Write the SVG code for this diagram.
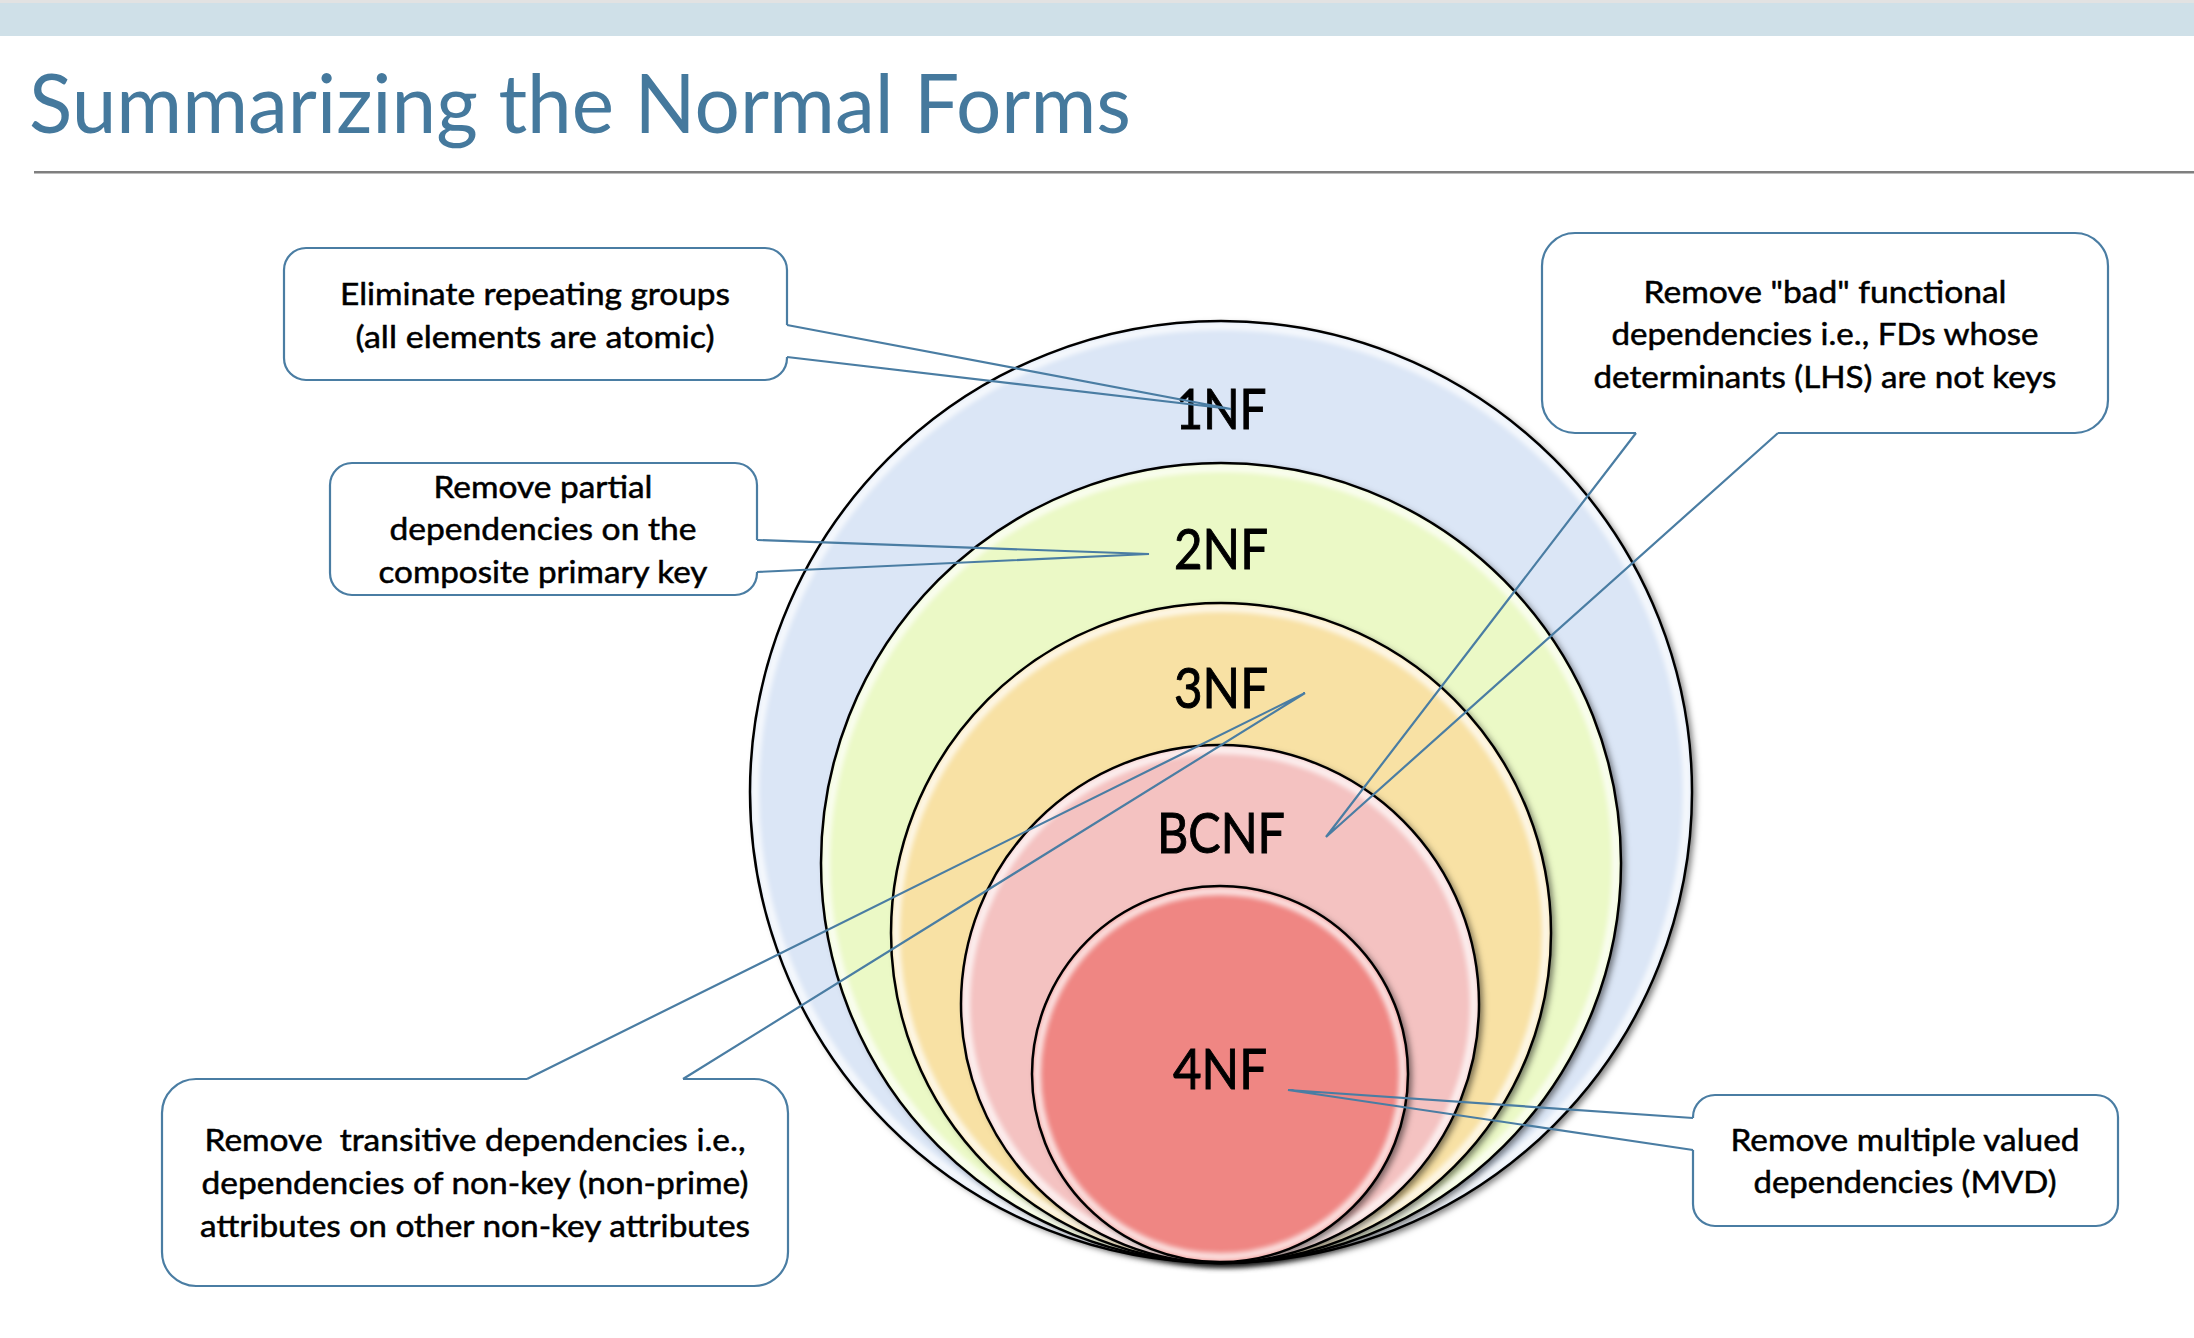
<svg xmlns="http://www.w3.org/2000/svg" width="2194" height="1338" viewBox="0 0 2194 1338">
  <style>
    .title { font-family: Lato, "Open Sans", sans-serif; font-size: 81px; fill: #45799d; }
    .lvl { font-family: Lato, "Open Sans", sans-serif; font-size: 56px; fill: #000; stroke: #000; stroke-width: 1; text-anchor: middle; }
    .note { font-family: Lato, "Open Sans", sans-serif; font-size: 30px; fill: #000; stroke: #000; stroke-width: 0.5; text-anchor: middle; }
    .box { fill: none; stroke: #4a7da3; stroke-width: 2.2; }
    .wedge { fill: none; stroke: #4a7da3; stroke-width: 2.2; stroke-linejoin: miter; }
    .ring { fill: none; stroke: #fff; stroke-width: 8; opacity: 0.75; }
    .edge { fill: none; stroke: #000; stroke-width: 2.5; }
  </style>
  <defs>
    <filter id="shadow" x="-10%" y="-10%" width="125%" height="125%">
      <feDropShadow dx="4" dy="3" stdDeviation="3" flood-color="#000" flood-opacity="0.5"/>
    </filter>
    <filter id="soft" x="-5%" y="-5%" width="110%" height="110%">
      <feGaussianBlur stdDeviation="2.5"/>
    </filter>
    <clipPath id="clip1"><circle cx="1221" cy="792" r="471"/></clipPath>
    <clipPath id="clip2"><circle cx="1221" cy="863" r="400"/></clipPath>
    <clipPath id="clip3"><circle cx="1221" cy="933" r="330"/></clipPath>
    <clipPath id="clip4"><circle cx="1220" cy="1004" r="259"/></clipPath>
    <clipPath id="clip5"><circle cx="1220" cy="1074" r="188"/></clipPath>
  </defs>

  <rect width="2194" height="1338" fill="#fff"/>

  <!-- header band, title and rule -->
  <g id="header">
    <rect x="0" y="0" width="2194" height="3" fill="#e2e2e2"/>
    <rect x="0" y="3" width="2194" height="33" fill="#cfe0e8"/>
    <text class="title" x="29" y="133" textLength="1102" lengthAdjust="spacingAndGlyphs">Summarizing the Normal Forms</text>
    <rect x="34" y="171" width="2160" height="2.5" fill="#7f7f7f"/>
  </g>

  <!-- nested normal-form circles, outermost first -->
  <g id="nf1">
    <circle cx="1221" cy="792" r="471" fill="#dbe6f6" filter="url(#shadow)"/>
    <g clip-path="url(#clip1)"><circle class="ring" cx="1221" cy="792" r="466" filter="url(#soft)"/></g>
    <circle class="edge" cx="1221" cy="792" r="471"/>
    <text class="lvl" x="1221" y="429" textLength="91" lengthAdjust="spacingAndGlyphs">1NF</text>
  </g>
  <g id="nf2">
    <circle cx="1221" cy="863" r="400" fill="#ebf9c6" filter="url(#shadow)"/>
    <g clip-path="url(#clip2)"><circle class="ring" cx="1221" cy="863" r="395" filter="url(#soft)"/></g>
    <circle class="edge" cx="1221" cy="863" r="400"/>
    <text class="lvl" x="1221" y="569" textLength="94" lengthAdjust="spacingAndGlyphs">2NF</text>
  </g>
  <g id="nf3">
    <circle cx="1221" cy="933" r="330" fill="#f8e1a4" filter="url(#shadow)"/>
    <g clip-path="url(#clip3)"><circle class="ring" cx="1221" cy="933" r="325" filter="url(#soft)"/></g>
    <circle class="edge" cx="1221" cy="933" r="330"/>
    <text class="lvl" x="1221" y="708" textLength="94" lengthAdjust="spacingAndGlyphs">3NF</text>
  </g>
  <g id="bcnf">
    <circle cx="1220" cy="1004" r="259" fill="#f4c2c1" filter="url(#shadow)"/>
    <g clip-path="url(#clip4)"><circle class="ring" cx="1220" cy="1004" r="254" filter="url(#soft)"/></g>
    <circle class="edge" cx="1220" cy="1004" r="259"/>
    <text class="lvl" x="1221" y="853" textLength="128" lengthAdjust="spacingAndGlyphs">BCNF</text>
  </g>
  <g id="nf4">
    <circle cx="1220" cy="1074" r="188" fill="#ef8683" filter="url(#shadow)"/>
    <g clip-path="url(#clip5)"><circle class="ring" cx="1220" cy="1074" r="183" filter="url(#soft)"/></g>
    <circle class="edge" cx="1220" cy="1074" r="188"/>
    <text class="lvl" x="1220" y="1089" textLength="94" lengthAdjust="spacingAndGlyphs">4NF</text>
  </g>

  <!-- callout boxes (outline left open where the pointer leaves) -->
  <g id="note-1nf">
    <path class="box" d="M787,357 V358 A22,22 0 0 1 765,380 H306 A22,22 0 0 1 284,358 V270 A22,22 0 0 1 306,248 H765 A22,22 0 0 1 787,270 V325"/>
    <text class="note" x="535" y="305" textLength="390" lengthAdjust="spacingAndGlyphs">Eliminate repeating groups</text>
    <text class="note" x="535" y="348" textLength="359" lengthAdjust="spacingAndGlyphs">(all elements are atomic)</text>
  </g>
  <g id="note-2nf">
    <path class="box" d="M757,572 V573 A22,22 0 0 1 735,595 H352 A22,22 0 0 1 330,573 V485 A22,22 0 0 1 352,463 H735 A22,22 0 0 1 757,485 V540"/>
    <text class="note" x="543" y="498" textLength="219" lengthAdjust="spacingAndGlyphs">Remove partial</text>
    <text class="note" x="543" y="540" textLength="307" lengthAdjust="spacingAndGlyphs">dependencies on the</text>
    <text class="note" x="543" y="583" textLength="329" lengthAdjust="spacingAndGlyphs">composite primary key</text>
  </g>
  <g id="note-bcnf">
    <path class="box" d="M1636,433 H1575 A33,33 0 0 1 1542,400 V266 A33,33 0 0 1 1575,233 H2075 A33,33 0 0 1 2108,266 V400 A33,33 0 0 1 2075,433 H1778"/>
    <text class="note" x="1825" y="303" textLength="363" lengthAdjust="spacingAndGlyphs">Remove "bad" functional</text>
    <text class="note" x="1825" y="345" textLength="427" lengthAdjust="spacingAndGlyphs">dependencies i.e., FDs whose</text>
    <text class="note" x="1825" y="388" textLength="463" lengthAdjust="spacingAndGlyphs">determinants (LHS) are not keys</text>
  </g>
  <g id="note-3nf">
    <path class="box" d="M683,1079 H754 A34,34 0 0 1 788,1113 V1252 A34,34 0 0 1 754,1286 H196 A34,34 0 0 1 162,1252 V1113 A34,34 0 0 1 196,1079 H527"/>
    <text class="note" x="475" y="1151" textLength="541" lengthAdjust="spacingAndGlyphs" xml:space="preserve">Remove  transitive dependencies i.e.,</text>
    <text class="note" x="475" y="1194" textLength="547" lengthAdjust="spacingAndGlyphs">dependencies of non-key (non-prime)</text>
    <text class="note" x="475" y="1237" textLength="550" lengthAdjust="spacingAndGlyphs">attributes on other non-key attributes</text>
  </g>
  <g id="note-4nf">
    <path class="box" d="M1693,1118 V1117 A22,22 0 0 1 1715,1095 H2096 A22,22 0 0 1 2118,1117 V1204 A22,22 0 0 1 2096,1226 H1715 A22,22 0 0 1 1693,1204 V1150"/>
    <text class="note" x="1905" y="1151" textLength="349" lengthAdjust="spacingAndGlyphs">Remove multiple valued</text>
    <text class="note" x="1905" y="1193" textLength="303" lengthAdjust="spacingAndGlyphs">dependencies (MVD)</text>
  </g>

  <!-- callout pointers -->
  <g id="connectors">
    <path class="wedge" d="M787,325 L1231,409 L787,357"/>
    <path class="wedge" d="M757,540 L1149,554 L757,572"/>
    <path class="wedge" d="M1636,433 L1326,837 L1778,433"/>
    <path class="wedge" d="M527,1079 L1305,693 L683,1079"/>
    <path class="wedge" d="M1693,1118 L1288,1090 L1693,1150"/>
  </g>
</svg>
